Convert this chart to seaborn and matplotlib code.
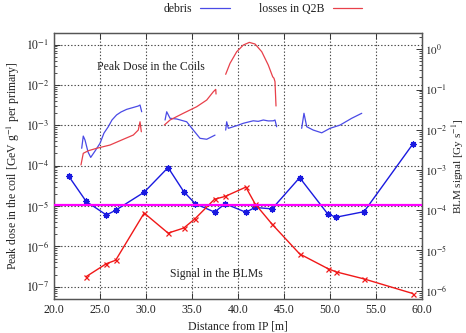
import numpy as np
import pandas as pd
import matplotlib
matplotlib.use("Agg")
import matplotlib.pyplot as plt
from matplotlib.lines import Line2D
from matplotlib.ticker import LogLocator, FixedLocator, NullFormatter, FuncFormatter
import seaborn as sns

# ---------------- data ----------------
# Peak dose in the coils (left axis, GeV g^-1 per primary), continuous curves per magnet
debris_seg1_x = [23.01, 23.18, 23.37, 23.7, 23.99, 24.46, 25.0, 25.43, 25.9, 26.3, 26.8, 27.28, 27.9, 28.59, 29.16, 29.35, 29.53]
debris_seg1_y = [2.69e-4, 5.4e-4, 4.3e-4, 2.17e-4, 1.6e-4, 2.3e-4, 3.57e-4, 6.4e-4, 9.2e-4, 1.35e-3, 1.8e-3, 2.13e-3, 2.48e-3, 2.75e-3, 3.0e-3, 3.17e-3, 2.16e-3]
debris_seg2_x = [32.07, 32.25, 32.61, 33.34, 34.42, 35.14, 35.87, 36.6, 37.5]
debris_seg2_y = [1.35e-3, 2.16e-3, 1.49e-3, 1.43e-3, 1.22e-3, 7.6e-4, 4.75e-4, 4.5e-4, 5.7e-4]
debris_seg3_x = [38.66, 38.77, 38.95, 39.49, 40.0, 40.58, 41.1, 41.66, 42.2, 42.75, 43.3, 43.84, 44.02, 44.2]
debris_seg3_y = [7.6e-4, 1.22e-3, 8.4e-4, 9.2e-4, 1.0e-3, 1.12e-3, 1.2e-3, 1.29e-3, 1.25e-3, 1.35e-3, 1.28e-3, 1.29e-3, 1.35e-3, 9.2e-4]
debris_seg4_x = [46.92, 47.17, 47.47, 48.18, 49.1, 50.0, 51.09, 52.36, 53.45]
debris_seg4_y = [8.4e-4, 1.98e-3, 9.2e-4, 7.6e-4, 6.5e-4, 8.4e-4, 1.01e-3, 1.49e-3, 1.98e-3]

q2b_seg1_x = [22.93, 23.18, 23.73, 24.64, 26.09, 27.53, 28.62, 29.16, 29.35, 29.49]
q2b_seg1_y = [1.04e-4, 2.02e-4, 2.34e-4, 2.69e-4, 3.24e-4, 4.49e-4, 5.73e-4, 7.62e-4, 1.22e-3, 6.9e-4]
q2b_seg2_x = [31.99, 32.61, 34.05, 35.51, 36.6, 37.32, 37.58, 37.61]
q2b_seg2_y = [1.01e-3, 1.35e-3, 1.98e-3, 2.88e-3, 4.22e-3, 6.78e-3, 7.76e-3, 5.94e-3]
q2b_seg3_x = [38.66, 39.13, 39.86, 40.58, 41.23, 41.85, 42.58, 43.29, 43.77, 43.91, 44.02, 44.13]
q2b_seg3_y = [1.83e-2, 3.42e-2, 6.64e-2, 9.73e-2, 1.13e-1, 1.03e-1, 6.64e-2, 3.1e-2, 1.59e-2, 1.46e-2, 1.2e-2, 3.0e-3]

# Signal in the BLMs (right axis, Gy s^-1)
blm_x = [21.6, 23.5, 25.7, 26.7, 29.8, 32.4, 34.1, 35.35, 37.45, 38.6, 40.85, 41.85, 43.7, 46.7, 49.75, 50.65, 53.7, 59.0]
blm_debris = [7.0e-4, 1.65e-4, 7.6e-5, 1.0e-4, 2.8e-4, 1.15e-3, 2.9e-4, 1.45e-4, 9.0e-5, 1.45e-4, 8.9e-5, 1.17e-4, 1.08e-4, 6.45e-4, 8.1e-5, 6.7e-5, 9.2e-5, 4.4e-3]
blm_q2b = [np.nan, 2.24e-6, 4.7e-6, 5.7e-6, 8.5e-5, 2.7e-5, 3.6e-5, 6.2e-5, 1.88e-4, 2.2e-4, 3.75e-4, 1.45e-4, 4.5e-5, 8.2e-6, 3.55e-6, 2.94e-6, 1.96e-6, 8.5e-7]
blm_threshold = 1.34e-4

x_ticks = [20.0, 25.0, 30.0, 35.0, 40.0, 45.0, 50.0, 55.0, 60.0]
left_ticks = [1e-7, 1e-6, 1e-5, 1e-4, 1e-3, 1e-2, 1e-1]
right_ticks = [1e-6, 1e-5, 1e-4, 1e-3, 1e-2, 1e-1, 1e0]

# ---------------- style ----------------
sns.set_style("ticks")
plt.rcParams['font.family'] = ['Liberation Serif', 'DejaVu Serif']
plt.rcParams['mathtext.fontset'] = 'stix'
plt.rcParams['xtick.direction'] = 'in'
plt.rcParams['ytick.direction'] = 'in'

blue_line = '#4a4ae6'
red_line = '#e8404a'
blue_mark = '#1a1ae0'
red_mark = '#f01818'

fig = plt.figure(figsize=(4.66, 3.33), dpi=100)
ax = fig.add_axes([0.1159, 0.1021, 0.7897, 0.7988])
ax2 = ax.twinx()

# continuous curves (left axis)
for xs, ys in [(debris_seg1_x, debris_seg1_y), (debris_seg2_x, debris_seg2_y),
               (debris_seg3_x, debris_seg3_y), (debris_seg4_x, debris_seg4_y)]:
    sns.lineplot(x=xs, y=ys, ax=ax, color=blue_line, linewidth=0.9, sort=False, estimator=None)
for xs, ys in [(q2b_seg1_x, q2b_seg1_y), (q2b_seg2_x, q2b_seg2_y), (q2b_seg3_x, q2b_seg3_y)]:
    sns.lineplot(x=xs, y=ys, ax=ax, color=red_line, linewidth=0.9, sort=False, estimator=None)

# BLM signals (right axis)
df_blm = pd.DataFrame({'x': blm_x, 'debris': blm_debris, 'q2b': blm_q2b})
d1 = df_blm.dropna(subset=['debris'])
d2 = df_blm.dropna(subset=['q2b'])
sns.lineplot(data=d1, x='x', y='debris', ax=ax2, color=blue_mark, linewidth=1.0,
             marker=(8, 2, 0), markersize=4.5, markeredgewidth=0.9, markeredgecolor=blue_mark,
             sort=False, estimator=None)
sns.lineplot(data=d2, x='x', y='q2b', ax=ax2, color=red_mark, linewidth=1.0,
             marker='x', markersize=3.6, markeredgewidth=0.9, markeredgecolor=red_mark,
             sort=False, estimator=None)
ax2.axhline(blm_threshold, color='#ff00ff', linewidth=1.6, zorder=5)

# axes scales and limits
ax.set_yscale('log')
ax2.set_yscale('log')
ax.set_xlim(20, 60)
ax.set_ylim(4.97e-8, 0.193)
ax2.set_ylim(6.21e-7, 2.54)

def pow_fmt(v, pos):
    e = int(round(np.log10(v)))
    return r'$10^{%d}$' % e

ax.xaxis.set_major_locator(FixedLocator(x_ticks))
ax.xaxis.set_major_formatter(FuncFormatter(lambda v, p: '%.1f' % v))
ax.yaxis.set_major_locator(FixedLocator(left_ticks))
ax.yaxis.set_major_formatter(FuncFormatter(pow_fmt))
ax.yaxis.set_minor_locator(LogLocator(base=10, subs=np.arange(2, 10) * 1.0, numticks=20))
ax.yaxis.set_minor_formatter(NullFormatter())
ax2.yaxis.set_major_locator(FixedLocator(right_ticks))
ax2.yaxis.set_major_formatter(FuncFormatter(pow_fmt))
ax2.yaxis.set_minor_locator(LogLocator(base=10, subs=np.arange(2, 10) * 1.0, numticks=20))
ax2.yaxis.set_minor_formatter(NullFormatter())

ax.tick_params(axis='both', which='major', labelsize=8.5, length=4, width=0.7, colors='#333333', labelcolor='#222222')
ax.tick_params(axis='y', which='minor', length=2, width=0.6, colors='#333333')
ax.tick_params(axis='x', top=True)
ax2.tick_params(axis='y', which='major', labelsize=8, length=4, width=0.7, colors='#333333', labelcolor='#222222', pad=2)
ax2.tick_params(axis='y', which='minor', length=2, width=0.6, colors='#333333')

ax.grid(True, which='major', axis='both', linestyle=(0, (1.2, 1.8)), color='#444444', linewidth=0.8)
for a in (ax, ax2):
    for s in a.spines.values():
        s.set_color('#555555')
        s.set_linewidth(0.9)

ax.set_xlabel('Distance from IP [m]', fontsize=8.5, color='#222222', labelpad=3)
ax.set_ylabel(r'Peak dose in the coil [GeV g$^{-1}$ per primary]', fontsize=8.5, color='#222222', labelpad=3)
ax2.set_ylabel(r'BLM signal [Gy s$^{-1}$]', fontsize=8, color='#222222')
ax2.yaxis.set_label_coords(1.077, 0.5)

ax.text(0.117, 0.873, 'Peak Dose in the Coils', transform=ax.transAxes, fontsize=8.5, color='#222222', ha='left', va='center')
ax.text(0.44, 0.093, 'Signal in the BLMs', transform=ax.transAxes, fontsize=8.5, color='#222222', ha='center', va='center')

handles = [Line2D([], [], color=blue_line, linewidth=0.9), Line2D([], [], color=red_line, linewidth=0.9)]
leg = fig.legend(handles, ['debris', 'losses in Q2B'], loc='center', bbox_to_anchor=(0.564, 0.973),
                 ncol=2, frameon=False, markerfirst=False, fontsize=8.5, handlelength=2.5,
                 columnspacing=2.5, handletextpad=0.7)
for t in leg.get_texts():
    t.set_color('#222222')

fig.savefig('out.png', dpi=100)
